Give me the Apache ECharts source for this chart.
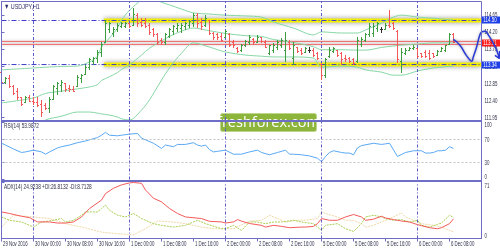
<!DOCTYPE html>
<html><head><meta charset="utf-8">
<script src="https://cdn.jsdelivr.net/npm/echarts@6/dist/echarts.min.js"></script>
<style>html,body{margin:0;padding:0;background:#fff}#c{width:500px;height:250px}</style>
</head><body><div id="c"></div>
<script>
// ---------- DATA ----------
const barOpen = [113.14,112.88,112.98,112.77,112.62,112.46,112.33,112.46,112.38,112.35,
112.30,112.25,112.17,112.43,112.72,112.80,112.85,112.72,112.69,112.77,
112.98,113.09,113.27,113.43,113.51,113.67,113.93,114.25,114.17,114.27,
114.35,114.35,114.43,114.38,114.64,114.46,114.43,114.38,114.25,114.12,
113.98,113.91,114.09,114.22,114.30,114.30,114.35,114.38,114.43,114.64,
114.46,114.38,114.51,114.17,114.12,114.09,114.06,114.14,113.93,113.77,
113.72,113.85,113.91,114.01,113.93,114.04,113.93,113.64,113.72,113.80,
113.85,113.72,113.93,113.51,113.80,113.72,113.67,113.72,113.72,113.62,
113.33,113.06,113.54,113.69,113.72,113.62,113.51,113.51,113.46,113.41,
113.88,113.98,114.12,114.17,114.30,114.25,114.27,114.38,114.41,114.22,
113.41,113.64,113.72,113.75,113.75,113.62,113.67,113.62,113.62,113.59,
113.69,113.72,113.88,114.12];
const barHigh = [113.19,113.01,113.06,112.80,112.72,112.48,112.51,112.54,112.48,112.48,
112.41,112.33,112.48,112.80,112.88,112.93,112.85,112.80,112.77,113.06,
113.09,113.33,113.51,113.54,113.72,113.93,114.51,114.46,114.33,114.43,
114.46,114.46,114.43,114.83,114.69,114.56,114.56,114.43,114.30,114.17,
114.04,114.17,114.30,114.38,114.43,114.43,114.46,114.51,114.69,114.69,
114.56,114.64,114.51,114.19,114.17,114.17,114.25,114.17,113.98,113.80,
113.88,113.98,114.12,114.04,114.12,114.06,113.98,113.85,113.91,113.98,
114.04,114.19,113.98,113.93,113.80,113.77,113.80,113.80,113.77,113.67,
113.38,113.51,113.80,113.80,113.72,113.67,113.59,113.54,113.51,114.06,
114.06,114.17,114.43,114.43,114.46,114.33,114.43,114.77,114.46,114.25,
113.77,113.77,113.80,113.85,113.77,113.64,113.72,113.72,113.64,113.72,
113.80,113.85,114.17,114.17];
const barLow = [112.75,112.83,112.72,112.54,112.41,112.25,112.33,112.35,112.27,112.22,
111.96,112.14,112.06,112.41,112.54,112.62,112.62,112.62,112.62,112.75,
112.85,113.06,113.19,113.33,113.38,113.54,113.93,114.17,114.06,114.19,
114.30,114.30,114.30,114.38,114.33,114.33,114.30,114.12,114.06,113.85,
113.85,113.85,114.04,114.12,114.19,114.17,114.25,114.30,114.33,114.30,
114.25,114.33,114.12,113.98,113.98,113.93,114.04,113.80,113.77,113.64,
113.67,113.80,113.85,113.85,113.91,113.91,113.77,113.59,113.64,113.72,
113.77,113.41,113.72,113.33,113.64,113.59,113.64,113.64,113.54,113.46,
112.93,112.98,113.51,113.64,113.54,113.33,113.41,113.38,113.33,113.38,
113.80,113.93,114.06,114.06,114.19,114.17,114.25,114.30,114.25,113.38,
113.12,113.59,113.72,113.72,113.51,113.51,113.51,113.46,113.51,113.59,
113.67,113.67,113.85,113.91];
const barClose = [112.88,112.98,112.77,112.59,112.46,112.30,112.46,112.38,112.33,112.27,
112.09,112.17,112.43,112.75,112.83,112.88,112.69,112.67,112.64,113.01,
113.06,113.27,113.46,113.51,113.67,113.88,114.41,114.41,114.27,114.38,
114.43,114.43,114.33,114.67,114.43,114.38,114.35,114.19,114.12,113.93,
113.91,114.12,114.25,114.33,114.38,114.38,114.43,114.48,114.64,114.41,
114.35,114.56,114.17,114.04,114.04,113.98,114.22,113.85,113.83,113.69,
113.85,113.96,114.06,113.91,114.06,113.96,113.80,113.83,113.85,113.93,
113.98,113.98,113.77,113.83,113.69,113.64,113.75,113.72,113.59,113.51,
113.06,113.46,113.72,113.75,113.59,113.46,113.46,113.43,113.38,113.98,
114.01,114.12,114.35,114.35,114.41,114.25,114.38,114.33,114.30,113.46,
113.67,113.72,113.77,113.80,113.56,113.54,113.56,113.51,113.54,113.69,
113.77,113.83,114.12,113.91];

const bbIdx    = [0,8,11,15,19,22,24,25,27,29,30,32,35,37,40,42,45,48,52,56,61,65,68,73,78,80,85,89,91,95,98,100,104,108,113];
const bbUpper  = [113.20,113.25,113.27,113.29,113.30,113.41,113.56,113.80,114.04,114.30,114.51,114.77,115.04,115.14,114.98,114.91,114.80,114.70,114.67,114.64,114.62,114.59,114.46,114.30,114.12,114.20,114.17,114.17,114.25,114.43,114.59,114.64,114.59,114.56,114.51];
const bbMiddle = [112.33,112.46,112.58,112.64,112.70,112.75,112.81,112.92,113.02,113.13,113.21,113.33,113.59,113.77,113.96,114.08,114.22,114.30,114.23,114.16,114.10,114.08,114.00,113.92,113.81,113.73,113.73,113.72,113.72,113.79,113.83,113.85,113.88,113.91,113.91];
const bbLower  = [111.46,111.67,111.88,111.98,112.09,112.09,112.06,112.04,112.01,111.96,111.91,111.88,112.14,112.41,112.93,113.25,113.64,113.91,113.80,113.67,113.59,113.56,113.54,113.54,113.51,113.27,113.30,113.27,113.20,113.14,113.06,113.06,113.17,113.25,113.30];

const rsiIdx = [0,1,3,5,6,8,10,11,12,14,15,17,19,21,24,25,26,27,29,30,32,34,35,36,38,40,41,43,44,46,48,49,50,51,52,53,54,56,58,60,62,64,65,67,69,71,72,73,75,77,79,80,81,82,83,85,86,87,88,89,90,93,95,96,97,99,101,103,105,106,107,108,109,110,111,112,113];
const rsiVal = [63,60,53,47,48,51,48,44,48,55,57,60,64,67,73,77,82,77,76,77,79,80,72,69,63,54,60,57,61,61,64,60,58,60,52,48,49,51,44,44,48,51,47,43,47,51,44,44,43,41,37,31,40,47,50,47,46,46,43,55,59,63,61,62,63,40,47,50,50,46,46,47,50,50,51,57,54];

const adxIdx = [0,2,5,7,9,12,14,16,18,20,22,25,26,28,30,32,33,35,36,38,40,42,44,46,50,52,55,56,58,59,60,62,65,66,68,70,72,75,76,78,79,80,82,84,86,88,90,91,93,95,96,98,100,102,104,105,107,109,110,112,113];
const adxVal = [33.7,31.7,28.2,26.5,21,21,19.6,19.6,21,27.3,38,48.7,57,63.7,68,70.5,71,70,61.5,51,46.5,38,31.7,27.3,25.3,21.8,21,19.6,21,24,22,19,16.7,14.5,16.7,15.4,13.7,14.5,14.5,15.4,18.8,25.3,23.1,23.1,27.3,30.4,27.3,23.1,24.5,28.2,26,24,22.2,20.9,17.6,16.3,13.7,12.4,13.7,18.8,24.9];
const pdiIdx = [0,2,5,7,8,10,13,15,16,18,20,21,24,25,26,27,29,31,33,35,38,40,43,46,49,51,55,56,58,60,62,64,66,68,70,73,75,78,79,80,81,84,86,88,90,91,93,95,96,98,100,102,104,105,107,109,110,112,113];
const pdiVal = [27.3,23.1,20.9,16.7,14.5,20.9,23.1,25.3,20.9,23.1,29.5,33.7,33.7,38,42.3,35.9,29.5,27.3,31.7,25.3,18.8,16.7,14.5,16.7,23.1,18.8,12.4,12.4,16.7,10.3,21,20.9,18.8,20.9,20.9,23.1,20.9,18.8,14.5,10.3,16.7,18.8,12.4,9,18.8,27.3,29.5,27.3,25.3,23.1,24,20.9,23.1,16.7,14.5,17.9,19.6,29.5,26.8];
const mdiIdx = [0,3,8,12,16,20,25,29,33,36,39,43,46,50,53,58,62,65,67,69,71,74,76,79,80,81,84,86,88,90,91,93,95,98,100,101,104,105,108,110,112,113];
const mdiVal = [14.5,29.5,27.3,25.3,18.8,14.5,8.1,6,4.7,12.4,22.2,20.9,18.8,14.5,12.4,12.4,22,23.1,29.5,25.3,20.9,23.1,23.1,25.3,33.7,31.7,27.3,23.1,23.1,18.8,14.5,16.7,20.9,27.3,32.4,27.3,20.9,18.8,16.7,14.5,10.3,8.7];

// hand-drawn forecast path (bar index, price)
const fcIdx = [112.95,114.6,115.9,117.1,117.55,117.95,118.8,119.45,120.05,120.9,121.7,122.95,123.8,124.45];
const fcVal = [114.00,113.85,113.63,113.46,113.43,113.54,113.81,114.07,114.20,114.22,114.12,113.90,113.72,113.50];
const arrowIdx = [124.55,124.45,123.35];
const arrowVal = [113.70,113.50,113.58];

const levelHigh = 114.50, levelLow = 113.34, levelStart = 25.6;
const redLines = [113.95, 113.87];
const dayLines = [8,32,56,80,104];
const mainTicks = [114.65,114.20,113.75,113.30,112.85,112.40,111.95];
const priceBoxes = [114.50, 113.34, 113.91];
const priceBoxKind = ['level','level','bid'];
const xTickIdx = [0,8,16,24,32,40,48,56,64,72,80,88,96,104,112];
const xTickText = ['29 Nov 2016','30 Nov 00:00','30 Nov 08:00','30 Nov 16:00','1 Dec 00:00','1 Dec 08:00','1 Dec 16:00','2 Dec 00:00','2 Dec 08:00','2 Dec 16:00','5 Dec 00:00','5 Dec 08:00','5 Dec 16:00','6 Dec 00:00','6 Dec 08:00'];
const rsiTicks = [0,30,70,100];
const adxTicks = [0,71];
const titleMain = '\u25BC USDJPY,H1';
const titleRsi = 'RSI(14) 53.9872';
const titleAdx = 'ADX(14) 24.9238 +DI:26.8132 -DI:8.7128';

// ---------- STYLE ----------
const UP='#3d9c3d', DOWN='#f25858', DOJI='#2a2a2a', FRAME='#6e6ec6', BB='#86d6a4';
const FONT='"Liberation Sans",Arial,sans-serif';
const LBL='#30304a';
const XMAX=120, XMAX_WIDE=124.625;
const TXT_SCALE=0.62;

const zip=(a,b)=>a.map((v,i)=>[v,b[i]]);
const ohlc = barOpen.map((o,i)=>[i,o,barHigh[i],barLow[i],barClose[i]]);

function renderOHLC(params, api){
  const i=api.value(0), o=api.value(1), h=api.value(2), l=api.value(3), c=api.value(4);
  const ph=api.coord([i,h]), pl=api.coord([i,l]), po=api.coord([i,o]), pc=api.coord([i,c]);
  const x=Math.round(ph[0]-0.5)+0.5;
  const col = c>o?UP:(c<o?DOWN:DOJI);
  const st={stroke:col,lineWidth:1};
  let y1=Math.round(ph[1]), y2=Math.round(pl[1]); if(y2-y1<1) y2=y1+1;
  const yo=Math.round(po[1]-0.5)+0.5, yc=Math.round(pc[1]-0.5)+0.5;
  return {type:'group',children:[
    {type:'line',shape:{x1:x,y1:y1,x2:x,y2:y2},style:st},
    {type:'line',shape:{x1:x-1.5,y1:yo,x2:x+0.5,y2:yo},style:st},
    {type:'line',shape:{x1:x-0.5,y1:yc,x2:x+1.5,y2:yc},style:st}
  ]};
}
// squeezed tick-label text
function sq(text,x,y,opts){
  opts=opts||{};
  return {type:'text',x:x,y:y,scaleX:opts.sx||TXT_SCALE,
    style:{text:text,fontSize:opts.fs||7,fontFamily:FONT,fill:opts.fill||LBL,
      align:'left',verticalAlign:opts.va||'middle'}};
}
function renderXLabels(params, api){
  const idx=api.value(0); const p=api.coord([idx,0]);
  return sq(xTickText[params.dataIndex], p[0]+1.5, p[1]+5.5);
}
function renderYLabels(params, api){
  const v=api.value(0); const p=api.coord([XMAX,v]);
  return sq(v.toFixed(2), p[0]+3, p[1]+0.5);
}
function renderSubLabels(params, api){
  const v=api.value(0); const p=api.coord([XMAX,v]);
  const axMax=api.value(1);
  let dy=0.5; if(v===axMax) dy=3.5; if(v===0) dy=-2.5;
  return sq(String(v), p[0]+3, p[1]+dy);
}
function renderBoxes(params, api){
  const v=api.value(0); const p=api.coord([XMAX,v]);
  const bid=priceBoxKind[params.dataIndex]==='bid';
  const y=Math.round(p[1]);
  return {type:'group',children:[
    {type:'rect',shape:{x:482,y:y-3.5,width:18,height:7},style:{fill:bid?'#ff1e1e':'#1e3ee6'}},
    sq(v.toFixed(2),483.3,y+0.5,{fill:'#fff',sx:0.64})
  ]};
}

const vLines = ()=>({silent:true,symbol:['none','none'],label:{show:false},
  lineStyle:{color:'#5a5ac8',type:[3,2,1,2],width:1},
  data: dayLines.map(d=>({xAxis:d}))});

const hLine=(val,start,lineStyle,z)=>({type:'line',xAxisIndex:0,yAxisIndex:0,data:[[start,val],[XMAX,val]],
  symbol:'none',silent:true,z:z,lineStyle:lineStyle});

const hiddenAxis = {show:false,splitLine:{show:false}};
const chart=echarts.init(document.getElementById('c'),null,{renderer:'canvas'});
const option={
  animation:false,
  backgroundColor:'#fff',
  grid:[
    {left:1.5,right:18.5,top:1.5,height:118.5},
    {left:1.5,right:18.5,top:122,height:57.5},
    {left:1.5,right:18.5,top:182.5,height:56},
    {left:1.5,right:0,top:1.5,height:118.5}
  ],
  xAxis:[0,1,2].map(k=>({type:'value',gridIndex:k,min:0,max:XMAX,
    splitLine:{show:false},
    axisLine:{show:k===2,lineStyle:{color:FRAME}},
    axisTick:{show:k===2,customValues:xTickIdx,length:3,lineStyle:{color:FRAME}},
    axisLabel:{show:false}
  })).concat([Object.assign({type:'value',gridIndex:3,min:0,max:XMAX_WIDE},hiddenAxis)]),
  yAxis:[
    {type:'value',gridIndex:0,position:'right',min:111.88,max:115.00,splitLine:{show:false},
      axisLine:{show:true,lineStyle:{color:FRAME}},
      axisTick:{show:true,customValues:mainTicks,length:3,lineStyle:{color:FRAME}},
      axisLabel:{show:false}},
    {type:'value',gridIndex:1,position:'right',min:0,max:100,splitLine:{show:false},
      axisLine:{show:true,lineStyle:{color:FRAME}},
      axisTick:{show:true,customValues:rsiTicks,length:3,lineStyle:{color:FRAME}},
      axisLabel:{show:false}},
    {type:'value',gridIndex:2,position:'right',min:0,max:71,splitLine:{show:false},
      axisLine:{show:true,lineStyle:{color:FRAME}},
      axisTick:{show:true,customValues:adxTicks,length:3,lineStyle:{color:FRAME}},
      axisLabel:{show:false}},
    Object.assign({type:'value',gridIndex:3,min:111.88,max:115.00},hiddenAxis)
  ],
  series:[
    hLine(levelHigh,levelStart,{color:'#f4f000',width:4,shadowBlur:5,shadowColor:'rgba(0,0,0,0.45)'},1),
    hLine(levelLow,levelStart,{color:'#f4f000',width:4,shadowBlur:5,shadowColor:'rgba(0,0,0,0.45)'},1),
    hLine(redLines[0],0,{color:'#f06868',width:1,shadowBlur:3,shadowColor:'rgba(0,0,0,0.3)'},2),
    hLine(redLines[1],0,{color:'#f06868',width:1,shadowBlur:3,shadowColor:'rgba(0,0,0,0.3)'},2),
    hLine(levelHigh,0,{color:'#3c3cc8',width:1,type:[5,2,1,2]},3),
    hLine(levelLow,0,{color:'#3c3cc8',width:1,type:[5,2,1,2]},3),
    {type:'line',xAxisIndex:0,yAxisIndex:0,data:zip(bbIdx,bbUpper),symbol:'none',smooth:0.3,silent:true,z:4,lineStyle:{color:BB,width:1}},
    {type:'line',xAxisIndex:0,yAxisIndex:0,data:zip(bbIdx,bbMiddle),symbol:'none',smooth:0.3,silent:true,z:4,lineStyle:{color:BB,width:1},markLine:vLines()},
    {type:'line',xAxisIndex:0,yAxisIndex:0,data:zip(bbIdx,bbLower),symbol:'none',smooth:0.3,silent:true,z:4,lineStyle:{color:BB,width:1}},
    {type:'custom',xAxisIndex:0,yAxisIndex:0,data:ohlc,renderItem:renderOHLC,encode:{x:0,y:[1,2,3,4]},z:5,silent:true},
    {type:'custom',xAxisIndex:0,yAxisIndex:0,data:mainTicks.map(v=>[v]),renderItem:renderYLabels,encode:{y:0},clip:false,silent:true,z:6},
    {type:'custom',xAxisIndex:3,yAxisIndex:3,data:priceBoxes.map(v=>[v]),renderItem:renderBoxes,encode:{y:0},clip:false,silent:true,z:7},
    {type:'line',xAxisIndex:3,yAxisIndex:3,data:zip(fcIdx,fcVal),symbol:'none',smooth:0.5,clip:false,silent:true,z:9,
      lineStyle:{color:'#2b3bd8',width:1.5,shadowBlur:3,shadowColor:'rgba(0,0,0,0.35)'}},
    {type:'line',xAxisIndex:3,yAxisIndex:3,data:zip(arrowIdx,arrowVal),symbol:'none',clip:false,silent:true,z:9,
      lineStyle:{color:'#2b3bd8',width:1.5}},
    {type:'line',xAxisIndex:1,yAxisIndex:1,data:zip(rsiIdx,rsiVal),symbol:'none',silent:true,z:4,
      lineStyle:{color:'#5aa8f4',width:1},
      markLine:{silent:true,symbol:['none','none'],label:{show:false},
        data:dayLines.map(d=>({xAxis:d,lineStyle:{color:'#5a5ac8',type:[3,2,1,2],width:1}}))
          .concat([{yAxis:70},{yAxis:30}]),
        lineStyle:{color:'#c4c4c4',type:[2,2],width:1}}},
    {type:'custom',xAxisIndex:1,yAxisIndex:1,data:rsiTicks.map(v=>[v,100]),renderItem:renderSubLabels,encode:{y:0},clip:false,silent:true,z:6},
    {type:'line',xAxisIndex:2,yAxisIndex:2,data:zip(mdiIdx,mdiVal),symbol:'none',silent:true,z:3,
      lineStyle:{color:'#efd9a6',width:1,type:[2,1]},markLine:vLines()},
    {type:'line',xAxisIndex:2,yAxisIndex:2,data:zip(pdiIdx,pdiVal),symbol:'none',silent:true,z:4,
      lineStyle:{color:'#a9cf52',width:1,type:[2,1]}},
    {type:'line',xAxisIndex:2,yAxisIndex:2,data:zip(adxIdx,adxVal),symbol:'none',silent:true,z:5,
      lineStyle:{color:'#f45a5a',width:1}},
    {type:'custom',xAxisIndex:2,yAxisIndex:2,data:adxTicks.map(v=>[v,71]),renderItem:renderSubLabels,encode:{y:0},clip:false,silent:true,z:6},
    {type:'custom',xAxisIndex:2,yAxisIndex:2,data:xTickIdx.map(v=>[v]),renderItem:renderXLabels,encode:{x:0},clip:false,silent:true,z:6}
  ],
  graphic:[
    {type:'rect',z:50,silent:true,shape:{x:1.5,y:1.5,width:480,height:237},style:{fill:null,stroke:FRAME,lineWidth:1}},
    {type:'rect',z:50,silent:true,shape:{x:1,y:120,width:481,height:2},style:{fill:FRAME}},
    {type:'rect',z:50,silent:true,shape:{x:1,y:180,width:481,height:2},style:{fill:FRAME}},
    {type:'text',z:51,silent:true,x:4,y:2.5,scaleX:0.72,style:{text:titleMain,fontSize:7.5,fontFamily:FONT,fill:'#2e2e6a'}},
    {type:'text',z:51,silent:true,x:4,y:123,scaleX:0.68,style:{text:titleRsi,fontSize:7,fontFamily:FONT,fill:LBL}},
    {type:'text',z:51,silent:true,x:4,y:183.5,scaleX:0.68,style:{text:titleAdx,fontSize:7,fontFamily:FONT,fill:LBL}},
    {type:'group',z:60,silent:true,x:220,y:113,children:[
      {type:'rect',shape:{x:0.5,y:0.5,width:96,height:18,r:2},style:{fill:'#8db53c',stroke:'#bcd68a',lineWidth:1}},
      {type:'text',x:48.5,y:9.5,style:{text:'freshforex.com',fontSize:14.5,fontFamily:'"Open Sans",sans-serif',fill:'#fff',align:'center',verticalAlign:'middle'}}
    ]}
  ]
};
chart.setOption(option);
</script></body></html>
